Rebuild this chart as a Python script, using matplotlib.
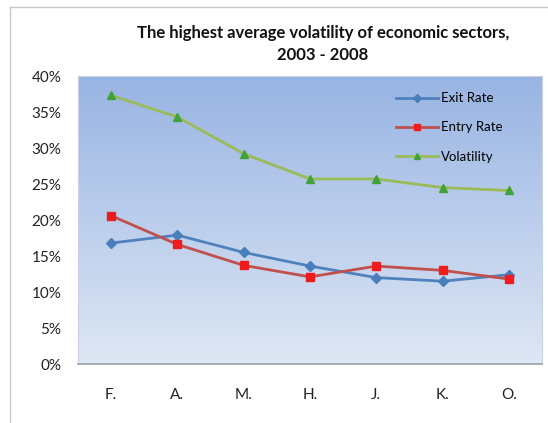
import numpy as np
import matplotlib
matplotlib.use("Agg")
import matplotlib.pyplot as plt
from matplotlib.lines import Line2D
from matplotlib.ticker import PercentFormatter

plt.rcParams['font.family'] = ['Lato', 'DejaVu Sans']

# data (percent)
sectors = ['F.', 'A.', 'M.', 'H.', 'J.', 'K.', 'O.']
exit_rate = [16.8, 17.9, 15.5, 13.6, 12.0, 11.5, 12.4]
entry_rate = [20.6, 16.6, 13.7, 12.1, 13.6, 13.0, 11.8]
volatility = [37.3, 34.3, 29.2, 25.7, 25.7, 24.5, 24.1]

W, H = 548, 423
fig = plt.figure(figsize=(W / 100, H / 100), dpi=100)
fig.patch.set_facecolor('white')

# plot area in pixels: left 78, right 542, top 76, bottom 364
ax = fig.add_axes([78 / W, 1 - 364 / H, (542 - 78) / W, (364 - 76) / H])

# vertical gradient background like the Excel plot area (darker at top)
top_col = np.array([152, 180, 227]) / 255
bot_col = np.array([222, 231, 244]) / 255
t = np.linspace(0, 1, 256)[:, None]
grad = (top_col * (1 - t) + bot_col * t)[:, None, :]
ax.imshow(grad, aspect='auto', extent=[0, 1, 0, 1], origin='upper',
          transform=ax.transAxes, zorder=0)

x = np.arange(len(sectors))
ax.plot(x, exit_rate, color='#4f81bd', lw=2, marker='D', ms=5,
        mfc='#4a7ebb', mec='#4a7ebb', label='Exit Rate', zorder=3)
ax.plot(x, entry_rate, color='#c0504d', lw=2, marker='s', ms=5.5,
        mfc='#ee1c1c', mec='#ee1c1c', label='Entry Rate', zorder=3)
ax.plot(x, volatility, color='#9bbb59', lw=2, marker='^', ms=5.5,
        mfc='#3fa23a', mec='#3fa23a', label='Volatility', zorder=3)

ax.set_xlim(-0.5, len(sectors) - 0.5)
ax.set_ylim(0, 40)
ax.set_yticks(np.arange(0, 41, 5))
ax.yaxis.set_major_formatter(PercentFormatter(decimals=0))
ax.set_xticks(x)
ax.set_xticklabels(sectors)
ax.tick_params(axis='both', length=0, labelsize=11, colors='#222222')
ax.tick_params(axis='y', pad=12)
ax.tick_params(axis='x', pad=17)

for side in ['top', 'right', 'left']:
    ax.spines[side].set_color('#c8d2e4')
    ax.spines[side].set_linewidth(0.8)
ax.spines['bottom'].set_color('#9aa3ad')
ax.spines['bottom'].set_linewidth(1.2)

leg = ax.legend(loc='upper right', bbox_to_anchor=(0.94, 0.985), frameon=False,
                fontsize=9.5, labelspacing=1.3, handlelength=3.2, handletextpad=0.2,
                markerscale=0.8)

fig.text(323 / W, 1 - 33 / H, 'The highest average volatility of economic sectors,',
         ha='center', va='center', fontsize=12, fontweight='bold', color='#111111')
fig.text(323 / W, 1 - 55 / H, '2003 - 2008',
         ha='center', va='center', fontsize=12, fontweight='bold', color='#111111')

# outer chart frame (left and top edges visible)
fig.add_artist(Line2D([10 / W, 10 / W], [0, 1 - 7 / H], transform=fig.transFigure,
                      color='#c8c8c8', lw=1))
fig.add_artist(Line2D([10 / W, 1], [1 - 7 / H, 1 - 7 / H], transform=fig.transFigure,
                      color='#c8c8c8', lw=1))

fig.savefig('out.png', dpi=100)
